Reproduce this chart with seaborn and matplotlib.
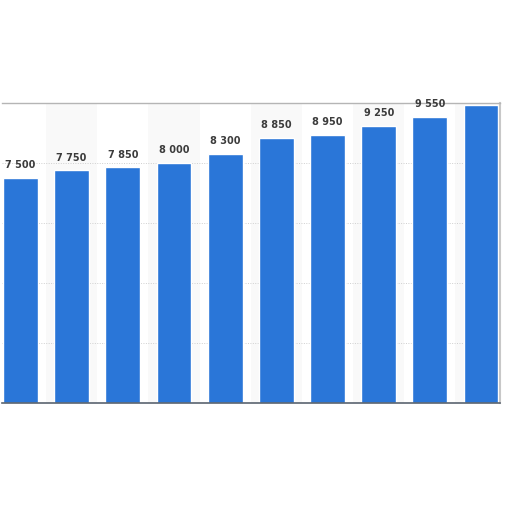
import numpy as np
import pandas as pd
import seaborn as sns
import matplotlib.pyplot as plt

# values (the last label is cut off in the source)
categories = ["1", "2", "3", "4", "5", "6", "7", "8", "9", "10"]
values = [7500, 7750, 7850, 8000, 8300, 8850, 8950, 9250, 9550, 9950]
labels = ["7 500", "7 750", "7 850", "8 000", "8 300", "8 850", "8 950", "9 250", "9 550", ""]
grid_ticks = [0, 2000, 4000, 6000, 8000, 10000]

BLUE = "#2a76d8"
BAND = "#f9f9f9"
GRID = "#cfcfcf"
TEXT = "#3c3c3c"

sns.set_theme(style="white")
plt.rcParams["font.family"] = ["DejaVu Sans"]

df = pd.DataFrame({"cat": categories, "value": values})

fig = plt.figure(figsize=(5.12, 5.12), dpi=100, facecolor="white")
ax = fig.add_axes([2 / 512, 109 / 512, 498 / 512, 300 / 512])

# alternating column shading
for i in range(len(categories)):
    if i % 2 == 1:
        ax.axvspan(i - 0.5, i + 0.5, color=BAND, zorder=0, lw=0)

for y in grid_ticks[1:-1]:
    ax.axhline(y, color=GRID, lw=0.7, ls=(0, (1, 1.5)), zorder=1)

sns.barplot(data=df, x="cat", y="value", color=BLUE, saturation=1,
            width=0.68, ax=ax, zorder=2)

for i, (v, lab) in enumerate(zip(values, labels)):
    if lab:
        ax.annotate(lab, (i, v), xytext=(0, 5.5), textcoords="offset points",
                    ha="center", va="bottom", fontsize=7, weight="semibold",
                    color=TEXT, zorder=3)

ax.set_xlim(-0.36, 9.37)
ax.set_ylim(0, 10000)
ax.set_xticks([])
ax.set_yticks([])
ax.set_xlabel("")
ax.set_ylabel("")
ax.set_facecolor("white")

ax.spines["left"].set_visible(False)
ax.spines["top"].set_color("#b5b5b5")
ax.spines["top"].set_linewidth(1.0)
ax.spines["right"].set_color("#c8c8c8")
ax.spines["right"].set_linewidth(1.5)
ax.spines["bottom"].set_color("#5a6470")
ax.spines["bottom"].set_linewidth(1.2)

fig.savefig("out.png", dpi=100, facecolor="white")
